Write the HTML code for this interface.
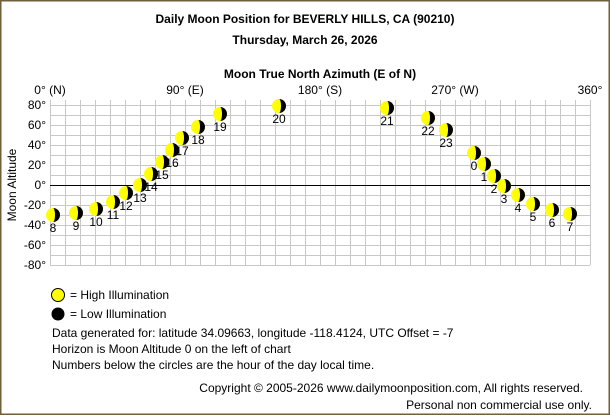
<!DOCTYPE html>
<html><head><meta charset="utf-8"><style>
html,body{margin:0;padding:0;background:#fff}
svg{display:block}
text{font-family:"Liberation Sans",Arial,sans-serif;font-size:12px;fill:#000}
.b{font-weight:bold}
</style></head><body>
<svg width="610" height="415" viewBox="0 0 610 415" xmlns="http://www.w3.org/2000/svg">
<defs>
<g id="m">
<circle cx="0" cy="0" r="7" fill="#ffff00"/>
<path d="M0 -7 A7 7 0 0 1 0 7 Z" fill="#000"/>
<ellipse cx="0" cy="0" rx="2" ry="7" fill="#ffff00"/>
</g>
</defs>
<rect x="0.5" y="0.5" width="609" height="414" fill="#fff" stroke="#6f5f3a" stroke-width="2"/>
<text x="305" y="23" text-anchor="middle" class="b">Daily Moon Position for BEVERLY HILLS, CA (90210)</text>
<text x="305" y="44" text-anchor="middle" class="b">Thursday, March 26, 2026</text>
<text x="320" y="78" text-anchor="middle" class="b">Moon True North Azimuth (E of N)</text>
<text x="50" y="94" text-anchor="middle">0° (N)</text>
<text x="185" y="94" text-anchor="middle">90° (E)</text>
<text x="320" y="94" text-anchor="middle">180° (S)</text>
<text x="455" y="94" text-anchor="middle">270° (W)</text>
<text x="590" y="94" text-anchor="middle">360°</text>
<path stroke="#c8c8c8" stroke-width="1" fill="none" d="
M50.5 100V265M65.5 100V265M80.5 100V265M95.5 100V265M110.5 100V265M125.5 100V265M140.5 100V265M155.5 100V265M170.5 100V265M185.5 100V265
M200.5 100V265M215.5 100V265M230.5 100V265M245.5 100V265M260.5 100V265M275.5 100V265M290.5 100V265M305.5 100V265M320.5 100V265M335.5 100V265
M350.5 100V265M365.5 100V265M380.5 100V265M395.5 100V265M410.5 100V265M425.5 100V265M440.5 100V265M455.5 100V265M470.5 100V265M485.5 100V265
M500.5 100V265M515.5 100V265M530.5 100V265M545.5 100V265M560.5 100V265M575.5 100V265M590.5 100V265
M50 105.5H590M50 115.5H590M50 125.5H590M50 135.5H590M50 145.5H590M50 155.5H590M50 165.5H590M50 175.5H590
M50 195.5H590M50 205.5H590M50 215.5H590M50 225.5H590M50 235.5H590M50 245.5H590M50 255.5H590M50 265.5H590"/>
<line x1="50" y1="185.5" x2="590" y2="185.5" stroke="#000" stroke-width="1"/>
<g text-anchor="end">
<text x="46" y="109">80°</text><text x="46" y="129">60°</text><text x="46" y="149">40°</text>
<text x="46" y="169">20°</text><text x="46" y="189">0°</text><text x="46" y="209">-20°</text>
<text x="46" y="229">-40°</text><text x="46" y="249">-60°</text><text x="46" y="269">-80°</text>
</g>
<text transform="translate(16,185) rotate(-90)" text-anchor="middle">Moon Altitude</text>
<g text-anchor="middle">
<use href="#m" x="53" y="215"/><text x="53" y="232">8</text>
<use href="#m" x="76" y="213"/><text x="76" y="230">9</text>
<use href="#m" x="96" y="209"/><text x="96" y="226">10</text>
<use href="#m" x="113" y="202"/><text x="113" y="219">11</text>
<use href="#m" x="126" y="193"/><text x="126" y="210">12</text>
<use href="#m" x="140" y="185"/><text x="140" y="202">13</text>
<use href="#m" x="151" y="174"/><text x="151" y="191">14</text>
<use href="#m" x="162" y="162"/><text x="162" y="179">15</text>
<use href="#m" x="172" y="150"/><text x="172" y="167">16</text>
<use href="#m" x="182" y="138"/><text x="182" y="155">17</text>
<use href="#m" x="198" y="127"/><text x="198" y="144">18</text>
<use href="#m" x="220" y="114"/><text x="220" y="131">19</text>
<use href="#m" x="279" y="106"/><text x="279" y="123">20</text>
<use href="#m" x="387" y="108"/><text x="387" y="125">21</text>
<use href="#m" x="428" y="118"/><text x="428" y="135">22</text>
<use href="#m" x="446" y="130"/><text x="446" y="147">23</text>
<use href="#m" x="474" y="153"/><text x="474" y="170">0</text>
<use href="#m" x="484" y="164"/><text x="484" y="181">1</text>
<use href="#m" x="494" y="176"/><text x="494" y="193">2</text>
<use href="#m" x="504" y="186"/><text x="504" y="203">3</text>
<use href="#m" x="518" y="195"/><text x="518" y="212">4</text>
<use href="#m" x="533" y="204"/><text x="533" y="221">5</text>
<use href="#m" x="552" y="210"/><text x="552" y="227">6</text>
<use href="#m" x="570" y="214"/><text x="570" y="231">7</text>
</g>
<circle cx="58" cy="295" r="6.5" fill="#ffff00" stroke="#000" stroke-width="1"/>
<text x="70" y="299">= High Illumination</text>
<circle cx="58" cy="314" r="6.5" fill="#000"/>
<text x="70" y="318">= Low Illumination</text>
<text x="52" y="337">Data generated for: latitude 34.09663, longitude -118.4124, UTC Offset = -7</text>
<text x="52" y="353">Horizon is Moon Altitude 0 on the left of chart</text>
<text x="52" y="369">Numbers below the circles are the hour of the day local time.</text>
<text x="583" y="392" text-anchor="end">Copyright © 2005-2026 www.dailymoonposition.com, All rights reserved.</text>
<text x="592" y="409" text-anchor="end">Personal non commercial use only.</text>
</svg>
</body></html>
